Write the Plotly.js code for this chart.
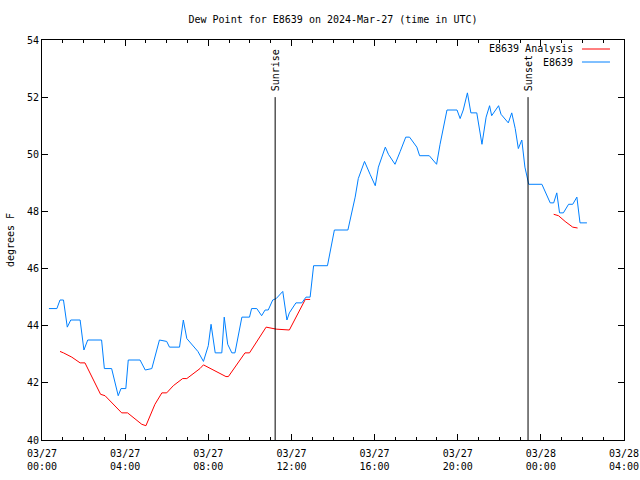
<!DOCTYPE html>
<html>
<head>
<meta charset="utf-8">
<script src="https://cdn.plot.ly/plotly-3.0.1.min.js"></script>
<style>html,body{margin:0;padding:0;background:#fff}#chart{width:640px;height:480px}</style>
</head>
<body>
<div id="chart"></div>
<script>
// E8639 observed dew point (deg F)
var obsTimes = [
 "2024-03-27 00:20","2024-03-27 00:43","2024-03-27 00:52","2024-03-27 01:02","2024-03-27 01:13","2024-03-27 01:23",
 "2024-03-27 01:50","2024-03-27 02:01","2024-03-27 02:12","2024-03-27 02:52","2024-03-27 03:00","2024-03-27 03:21",
 "2024-03-27 03:40","2024-03-27 03:48","2024-03-27 04:02","2024-03-27 04:09","2024-03-27 04:43","2024-03-27 04:58",
 "2024-03-27 05:17","2024-03-27 05:39","2024-03-27 06:00","2024-03-27 06:08","2024-03-27 06:37","2024-03-27 06:48",
 "2024-03-27 06:58","2024-03-27 07:12","2024-03-27 07:30","2024-03-27 07:46","2024-03-27 08:00","2024-03-27 08:08",
 "2024-03-27 08:20","2024-03-27 08:39","2024-03-27 08:46","2024-03-27 08:56","2024-03-27 09:08","2024-03-27 09:17",
 "2024-03-27 09:32","2024-03-27 09:37","2024-03-27 09:59","2024-03-27 10:05","2024-03-27 10:20","2024-03-27 10:34",
 "2024-03-27 10:44","2024-03-27 10:53","2024-03-27 11:06","2024-03-27 11:16","2024-03-27 11:35","2024-03-27 11:47",
 "2024-03-27 11:54","2024-03-27 12:13","2024-03-27 12:30","2024-03-27 12:42","2024-03-27 12:54","2024-03-27 13:04",
 "2024-03-27 13:44","2024-03-27 14:04","2024-03-27 14:43","2024-03-27 15:04","2024-03-27 15:13","2024-03-27 15:31",
 "2024-03-27 15:47","2024-03-27 16:02","2024-03-27 16:11","2024-03-27 16:21","2024-03-27 16:31","2024-03-27 16:40",
 "2024-03-27 16:59","2024-03-27 17:14","2024-03-27 17:30","2024-03-27 17:41","2024-03-27 18:02","2024-03-27 18:10",
 "2024-03-27 18:38","2024-03-27 18:59","2024-03-27 19:09","2024-03-27 19:29","2024-03-27 19:58","2024-03-27 20:07",
 "2024-03-27 20:16","2024-03-27 20:28","2024-03-27 20:38","2024-03-27 20:55","2024-03-27 21:10","2024-03-27 21:22",
 "2024-03-27 21:32","2024-03-27 21:38","2024-03-27 21:58","2024-03-27 22:05","2024-03-27 22:26","2024-03-27 22:36",
 "2024-03-27 22:46","2024-03-27 22:55","2024-03-27 23:05","2024-03-27 23:14","2024-03-27 23:22","2024-03-27 23:25",
 "2024-03-28 00:03","2024-03-28 00:27","2024-03-28 00:37","2024-03-28 00:46","2024-03-28 00:54","2024-03-28 01:05",
 "2024-03-28 01:20","2024-03-28 01:32","2024-03-28 01:44","2024-03-28 01:53","2024-03-28 02:13"
];
var obsDew = [
 44.6,44.6,44.9,44.9,43.95,44.2,
 44.2,43.15,43.5,43.5,42.5,42.5,
 41.55,41.8,41.8,42.8,42.8,42.45,
 42.5,43.5,43.45,43.25,43.25,44.2,
 43.55,43.35,43.1,42.75,43.3,44.05,
 43.05,43.05,44.3,43.35,43.05,43.05,
 44.1,44.3,44.3,44.6,44.6,44.35,
 44.55,44.55,44.9,44.95,45.2,44.2,
 44.45,44.8,44.8,45.0,45.0,46.1,
 46.1,47.35,47.35,48.5,49.15,49.75,
 49.3,48.9,49.55,49.9,50.25,50.0,
 49.65,50.1,50.6,50.6,50.25,49.95,
 49.95,49.65,50.35,51.55,51.55,51.25,
 51.55,52.15,51.45,51.45,50.35,51.3,
 51.7,51.35,51.7,51.4,51.1,51.45,
 50.9,50.2,50.5,49.55,49.1,48.95,
 48.95,48.3,48.3,48.65,47.95,47.95,
 48.25,48.25,48.5,47.6,47.6
];
// E8639 Analysis dew point (deg F); null = gap
var anaTimes = [
 "2024-03-27 00:52","2024-03-27 01:02","2024-03-27 01:26","2024-03-27 01:50","2024-03-27 02:04","2024-03-27 02:28",
 "2024-03-27 02:49","2024-03-27 03:02","2024-03-27 03:50","2024-03-27 04:07","2024-03-27 04:48","2024-03-27 05:00",
 "2024-03-27 05:26","2024-03-27 05:46","2024-03-27 06:00","2024-03-27 06:19","2024-03-27 06:46","2024-03-27 06:58",
 "2024-03-27 07:36","2024-03-27 07:46","2024-03-27 08:20","2024-03-27 08:51","2024-03-27 08:58","2024-03-27 09:46",
 "2024-03-27 09:59","2024-03-27 10:47","2024-03-27 11:16","2024-03-27 11:54","2024-03-27 12:40","2024-03-27 12:54",
 "2024-03-27 18:00",
 "2024-03-28 00:37","2024-03-28 00:51","2024-03-28 01:10","2024-03-28 01:32","2024-03-28 01:46"
];
var anaDew = [
 43.1,43.05,42.9,42.7,42.7,42.1,
 41.6,41.55,40.95,40.95,40.55,40.5,
 41.25,41.65,41.65,41.9,42.15,42.15,
 42.5,42.63,42.4,42.22,42.22,43.05,
 43.05,43.95,43.88,43.85,44.92,44.92,
 null,
 47.9,47.85,47.65,47.45,47.42
];
var sunTimes = ["2024-03-27 11:13","2024-03-27 23:23"];
var sunLabels = ["Sunrise","Sunset"];
var tickVals = ["2024-03-27 00:00","2024-03-27 04:00","2024-03-27 08:00","2024-03-27 12:00",
                "2024-03-27 16:00","2024-03-27 20:00","2024-03-28 00:00","2024-03-28 04:00"];
var tickText = ["03/27<br>00:00","03/27<br>04:00","03/27<br>08:00","03/27<br>12:00",
                "03/27<br>16:00","03/27<br>20:00","03/28<br>00:00","03/28<br>04:00"];
var yTicks = [40,42,44,46,48,50,52,54];
var seriesNames = ["E8639 Analysis","E8639"];
var seriesColors = ["#ff0000","#0080ff"];

var FONT = "DejaVu Sans Mono, monospace";

var traces = [
  {x: anaTimes, y: anaDew, type: "scatter", mode: "lines", name: seriesNames[0],
   line: {color: seriesColors[0], width: 1}, connectgaps: false, showlegend: false, hoverinfo: "skip"},
  {x: obsTimes, y: obsDew, type: "scatter", mode: "lines", name: seriesNames[1],
   line: {color: seriesColors[1], width: 1}, showlegend: false, hoverinfo: "skip"}
];

var shapes = [];
var annotations = [];
sunTimes.forEach(function(t, i) {
  shapes.push({type: "line", xref: "x", yref: "y", x0: t, x1: t, y0: 40, y1: 52,
               line: {color: "#000", width: 1}});
  annotations.push({xref: "x", yref: "y", x: t, y: 52, text: sunLabels[i], textangle: -90,
                    showarrow: false, xanchor: "center", yanchor: "bottom", yshift: 4,
                    font: {family: FONT, size: 10, color: "#000"}});
});
// gnuplot-style legend (text then line sample)
var legY = [0.9775, 0.945];
seriesNames.forEach(function(n, i) {
  annotations.push({xref: "paper", yref: "paper", x: 0.9158, y: legY[i], text: n, showarrow: false,
                    xanchor: "right", yanchor: "middle", font: {family: FONT, size: 10, color: "#000"}});
  shapes.push({type: "line", xref: "paper", yref: "paper", x0: 0.9278, x1: 0.9759, y0: legY[i], y1: legY[i],
               line: {color: seriesColors[i], width: 1}});
});

var layout = {
  width: 640, height: 480,
  margin: {l: 42, r: 16, t: 40, b: 40, pad: 0},
  paper_bgcolor: "#fff", plot_bgcolor: "#fff",
  font: {family: FONT, size: 10, color: "#000"},
  title: {text: "Dew Point for E8639 on 2024-Mar-27 (time in UTC)", x: 0.5, xref: "paper",
          y: 1 - 19/480, yref: "container", xanchor: "center", yanchor: "middle",
          font: {family: FONT, size: 10, color: "#000"}},
  xaxis: {type: "date", range: ["2024-03-27 00:00", "2024-03-28 04:00"],
          tickmode: "array", tickvals: tickVals, ticktext: tickText,
          ticks: "inside", ticklen: 6, tickcolor: "#000", mirror: "ticks",
          ticklabelstandoff: 4,
          showline: true, linecolor: "#000", linewidth: 1, showgrid: false, zeroline: false,
          minor: {dtick: 3600000, tick0: "2024-03-27 00:00", ticks: "inside", ticklen: 3, tickcolor: "#000", showgrid: false},
          tickfont: {family: FONT, size: 10, color: "#000"}, fixedrange: true},
  yaxis: {range: [40, 54], tickmode: "array", tickvals: yTicks,
          ticks: "inside", ticklen: 6, tickcolor: "#000", mirror: "ticks",
          showline: true, linecolor: "#000", linewidth: 1, showgrid: false, zeroline: false,
          title: {text: "degrees F", font: {family: FONT, size: 10, color: "#000"}, standoff: 10},
          tickfont: {family: FONT, size: 10, color: "#000"}, fixedrange: true},
  shapes: shapes,
  annotations: annotations,
  showlegend: false
};

Plotly.newPlot("chart", traces, layout, {staticPlot: true, displayModeBar: false});
</script>
</body>
</html>
